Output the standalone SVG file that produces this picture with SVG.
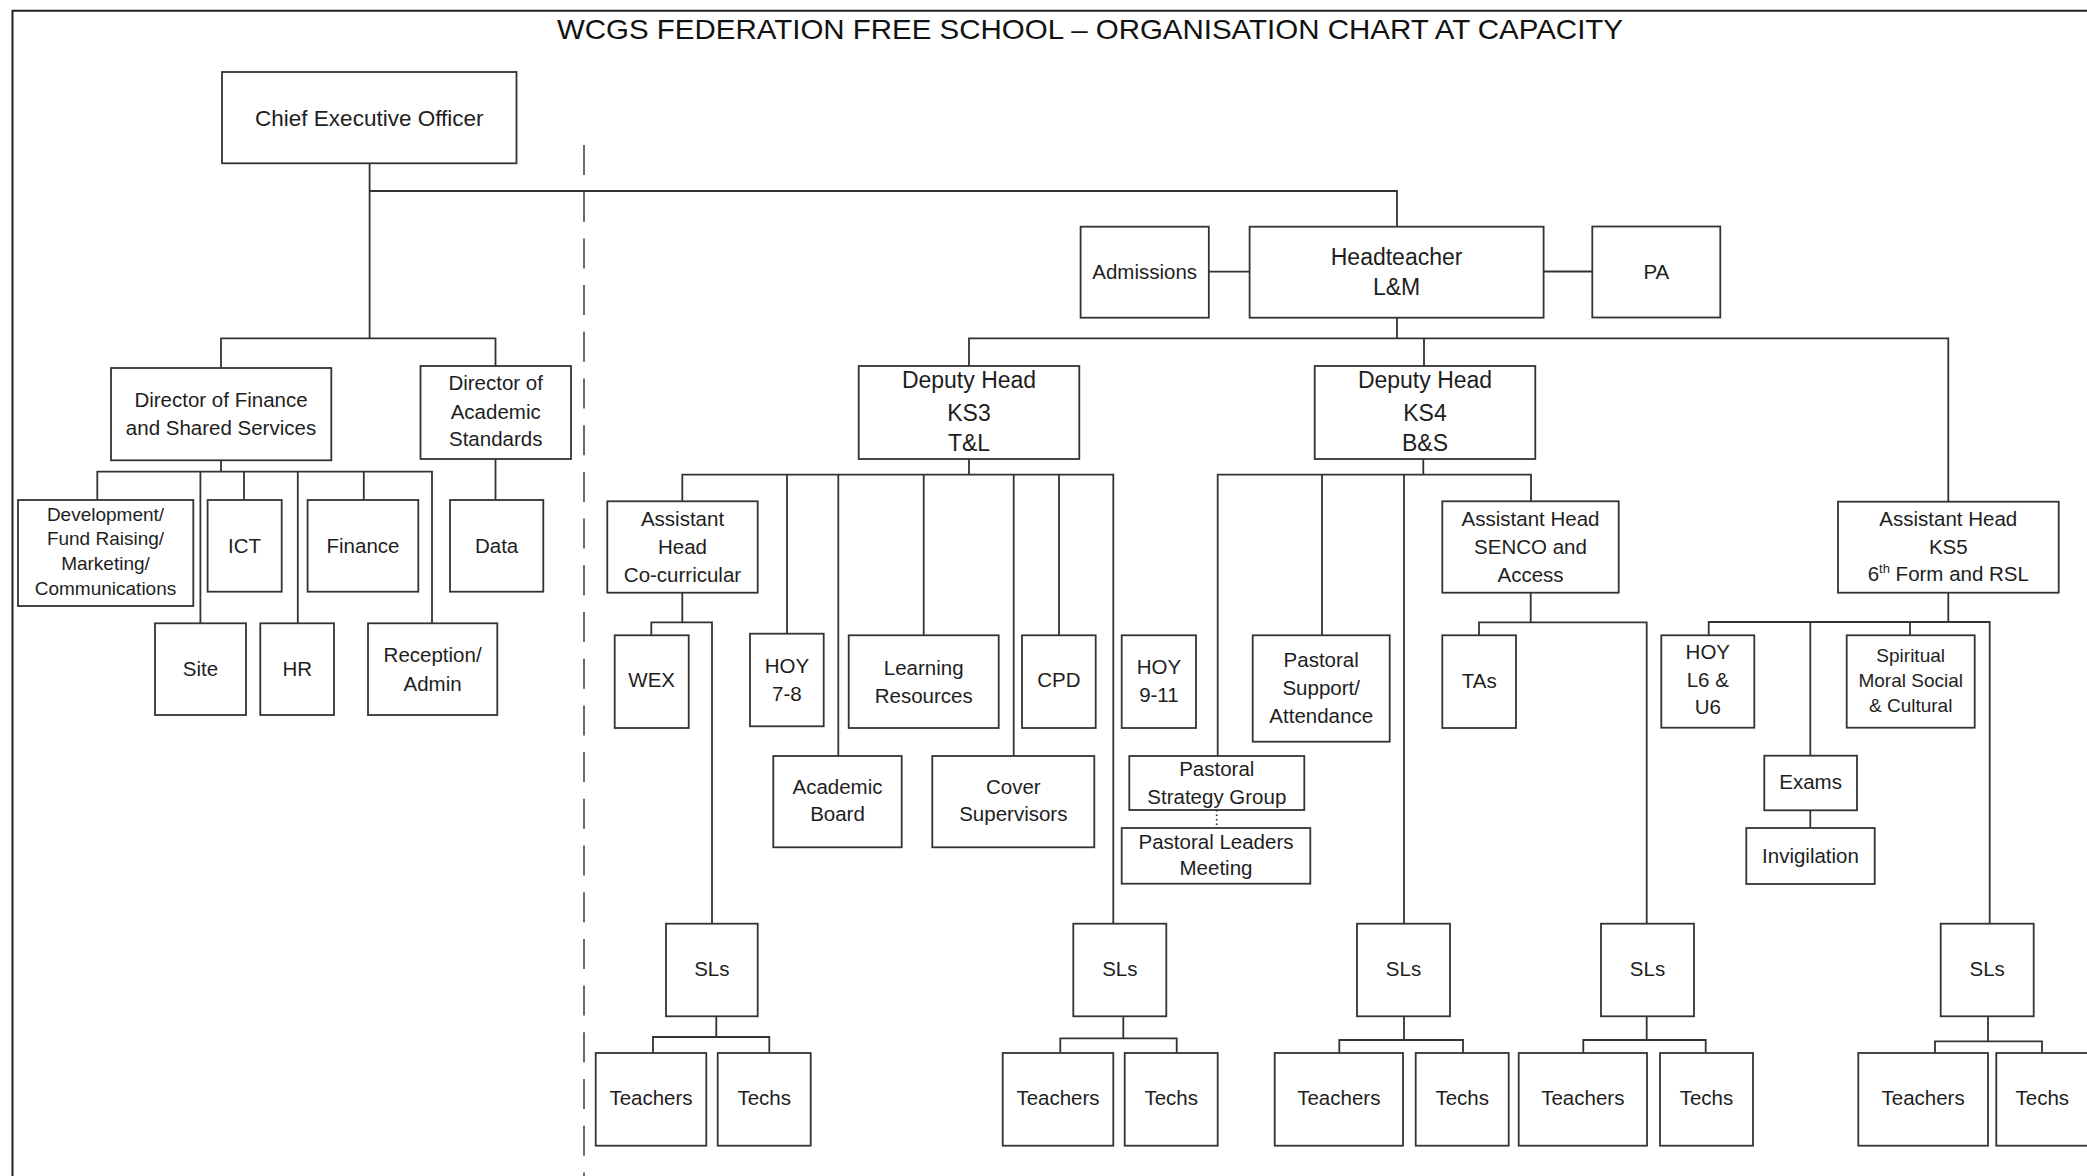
<svg xmlns="http://www.w3.org/2000/svg" width="2087" height="1176" viewBox="0 0 2087 1176">
<style>
.box{fill:#fff;stroke:#333;stroke-width:1.8}
.ln{fill:none;stroke:#333;stroke-width:1.8}
.t{font-family:"Liberation Sans",Arial,sans-serif;font-size:20.5px;fill:#1e1e1e;text-anchor:middle}
.big{font-size:23px}
.sm{font-size:19px}
.title{font-family:"Liberation Sans",Arial,sans-serif;font-size:28px;fill:#111}
</style>
<rect width="2087" height="1176" fill="#fff"/>
<path d="M12.5 1176 V10.7 H2087" fill="none" stroke="#222" stroke-width="2"/>
<text class="title" x="557" y="39" textLength="1066" lengthAdjust="spacingAndGlyphs">WCGS FEDERATION FREE SCHOOL – ORGANISATION CHART AT CAPACITY</text>
<line x1="584" y1="145" x2="584" y2="1176" stroke="#444" stroke-width="1.6" stroke-dasharray="30 16.7"/>

<g id="connectors" class="ln">
<path d="M369.6 163.3 V338.3 M369.6 191 H1397 V226.7"/>
<path d="M221 367.7 V338.3 H495.5 V366"/>
<path d="M221 460.3 V471.7 M97.3 499.7 V471.7 H432 V623.3 M200.4 471.7 V623.3 M244 471.7 V499.7 M297.8 471.7 V623.3 M363.8 471.7 V499.7"/>
<path d="M495.5 459 V499.7"/>
<path d="M1208.8 271.7 H1249.6 M1543.6 271.5 H1592.3"/>
<path d="M1397 317.7 V338.3 M969 366 V338.3 H1948.3 V501.7 M1424 338.3 V366"/>
<path d="M969 459 V474.7 M682.3 501.3 V474.7 H1113.3 V923.7 M787 474.7 V633.7 M838.3 474.7 V756 M923.7 474.7 V635.3 M1013.7 474.7 V756 M1059 474.7 V635.3"/>
<path d="M682.3 592.7 V622.3 M651.3 635.3 V622.3 H712 V923.7"/>
<path d="M1423.3 459 V474.7 M1217.7 756 V474.7 H1531 V501.3 M1322 474.7 V635.3 M1404 474.7 V923.7"/>
<path d="M1216.7 810 V828" stroke-dasharray="1.5 3"/>
<path d="M1530.7 592.7 V622.3 M1479 635.3 V622.3 H1646.7 V923.7"/>
<path d="M1948.3 592.7 V622 M1708.7 635.3 V622 H1989.7 V923.7 M1810.3 622 V755.7 M1910 622 V635.3"/>
<path d="M1810.3 810.3 V828"/>
<path d="M716.3 1016.3 V1037 M653 1053 V1037 H769.3 V1053"/>
<path d="M1123.3 1016.3 V1038.3 M1060.3 1053 V1038.3 H1176.7 V1053"/>
<path d="M1404 1016.3 V1040 M1339.3 1053 V1040 H1463 V1053"/>
<path d="M1646.7 1016.3 V1040 M1583.3 1053 V1040 H1705.7 V1053"/>
<path d="M1988 1016.3 V1041.3 M1935 1053 V1041.3 H2042 V1053"/>
</g>

<g id="ceo"><rect class="box" x="222" y="72" width="294.5" height="91.3"/><text class="t" style="font-size:22.5px" x="369.3" y="126">Chief Executive Officer</text></g>
<g id="dir-finance"><rect class="box" x="111" y="368" width="220.3" height="92.3"/><text class="t" x="221" y="406.5">Director of Finance</text><text class="t" x="221" y="434.5">and Shared Services</text></g>
<g id="dir-academic"><rect class="box" x="420.5" y="366" width="150.5" height="93"/><text class="t" x="495.7" y="390">Director of</text><text class="t" x="495.7" y="418.5">Academic</text><text class="t" x="495.7" y="446">Standards</text></g>
<g id="development"><rect class="box" x="18" y="500" width="175.3" height="106"/><text class="t sm" x="105.5" y="520.5">Development/</text><text class="t sm" x="105.5" y="545">Fund Raising/</text><text class="t sm" x="105.5" y="570">Marketing/</text><text class="t sm" x="105.5" y="595">Communications</text></g>
<g id="ict"><rect class="box" x="207.6" y="500" width="74.1" height="91.7"/><text class="t" x="244.6" y="552.7">ICT</text></g>
<g id="finance"><rect class="box" x="307.6" y="500" width="110.7" height="91.7"/><text class="t" x="363" y="552.7">Finance</text></g>
<g id="data"><rect class="box" x="450" y="500" width="93.3" height="91.7"/><text class="t" x="496.6" y="552.7">Data</text></g>
<g id="site"><rect class="box" x="155" y="623.3" width="91" height="91.7"/><text class="t" x="200.5" y="676">Site</text></g>
<g id="hr"><rect class="box" x="260.3" y="623.3" width="73.7" height="91.7"/><text class="t" x="297.2" y="676">HR</text></g>
<g id="reception"><rect class="box" x="368" y="623.3" width="129.3" height="91.7"/><text class="t" x="432.6" y="662">Reception/</text><text class="t" x="432.6" y="691">Admin</text></g>

<g id="admissions"><rect class="box" x="1080.6" y="226.7" width="128.2" height="91"/><text class="t" x="1144.7" y="278.7">Admissions</text></g>
<g id="headteacher"><rect class="box" x="1249.6" y="226.7" width="294" height="91"/><text class="t big" x="1396.6" y="264.7">Headteacher</text><text class="t big" x="1396.6" y="294.7">L&amp;M</text></g>
<g id="pa"><rect class="box" x="1592.3" y="226.5" width="128" height="91"/><text class="t" x="1656.3" y="278.5">PA</text></g>

<g id="deputy-ks3"><rect class="box" x="858.7" y="366" width="220.6" height="93"/><text class="t big" x="969" y="388">Deputy Head</text><text class="t big" x="969" y="420.7">KS3</text><text class="t big" x="969" y="451.3">T&amp;L</text></g>
<g id="deputy-ks4"><rect class="box" x="1314.7" y="366" width="220.6" height="93"/><text class="t big" x="1425" y="388">Deputy Head</text><text class="t big" x="1425" y="420.7">KS4</text><text class="t big" x="1425" y="451.3">B&amp;S</text></g>

<g id="ah-cocurricular"><rect class="box" x="607.3" y="501.3" width="150.4" height="91.4"/><text class="t" x="682.5" y="526">Assistant</text><text class="t" x="682.5" y="553.7">Head</text><text class="t" x="682.5" y="582">Co-curricular</text></g>
<g id="wex"><rect class="box" x="614.7" y="635.3" width="74" height="92.7"/><text class="t" x="651.7" y="687">WEX</text></g>
<g id="hoy-7-8"><rect class="box" x="750" y="633.7" width="73.7" height="92.6"/><text class="t" x="786.9" y="672.7">HOY</text><text class="t" x="786.9" y="701">7-8</text></g>
<g id="learning-resources"><rect class="box" x="848.7" y="635.3" width="150" height="92.7"/><text class="t" x="923.7" y="675.3">Learning</text><text class="t" x="923.7" y="702.7">Resources</text></g>
<g id="cpd"><rect class="box" x="1022" y="635.3" width="73.7" height="92.7"/><text class="t" x="1058.9" y="687">CPD</text></g>
<g id="academic-board"><rect class="box" x="773.3" y="756" width="128.4" height="91.3"/><text class="t" x="837.5" y="793.7">Academic</text><text class="t" x="837.5" y="821">Board</text></g>
<g id="cover-supervisors"><rect class="box" x="932.3" y="756" width="162" height="91.3"/><text class="t" x="1013.3" y="793.7">Cover</text><text class="t" x="1013.3" y="821">Supervisors</text></g>

<g id="hoy-9-11"><rect class="box" x="1121.7" y="635.3" width="74.3" height="92.7"/><text class="t" x="1158.9" y="674.3">HOY</text><text class="t" x="1158.9" y="702">9-11</text></g>
<g id="pastoral-strategy"><rect class="box" x="1129.3" y="756" width="175" height="54"/><text class="t" x="1216.8" y="776">Pastoral</text><text class="t" x="1216.8" y="804.3">Strategy Group</text></g>
<g id="pastoral-leaders"><rect class="box" x="1121.7" y="828" width="188.6" height="55.7"/><text class="t" x="1216" y="848.7">Pastoral Leaders</text><text class="t" x="1216" y="875.3">Meeting</text></g>
<g id="pastoral-support"><rect class="box" x="1252.7" y="635.3" width="137" height="106.4"/><text class="t" x="1321.2" y="667">Pastoral</text><text class="t" x="1321.2" y="695.3">Support/</text><text class="t" x="1321.2" y="723">Attendance</text></g>
<g id="ah-senco"><rect class="box" x="1442.3" y="501.3" width="176.4" height="91.4"/><text class="t" x="1530.5" y="526">Assistant Head</text><text class="t" x="1530.5" y="553.7">SENCO and</text><text class="t" x="1530.5" y="582">Access</text></g>
<g id="tas"><rect class="box" x="1442.3" y="635.3" width="73.7" height="92.7"/><text class="t" x="1479.2" y="687.7">TAs</text></g>

<g id="ah-ks5"><rect class="box" x="1838" y="501.7" width="220.7" height="91"/><text class="t" x="1948.3" y="526">Assistant Head</text><text class="t" x="1948.3" y="553.7">KS5</text><text class="t" x="1948.3" y="581.3">6<tspan dy="-8" style="font-size:13px">th</tspan><tspan dy="8"> Form and RSL</tspan></text></g>
<g id="hoy-l6-u6"><rect class="box" x="1661.3" y="635.3" width="93" height="92.4"/><text class="t" x="1707.8" y="659.3">HOY</text><text class="t" x="1707.8" y="687">L6 &amp;</text><text class="t" x="1707.8" y="714.3">U6</text></g>
<g id="smsc"><rect class="box" x="1846.7" y="635.3" width="128" height="92.4"/><text class="t sm" x="1910.7" y="662.2">Spiritual</text><text class="t sm" x="1910.7" y="687.2">Moral Social</text><text class="t sm" x="1910.7" y="712.2">&amp; Cultural</text></g>
<g id="exams"><rect class="box" x="1764.3" y="755.7" width="92.7" height="54.6"/><text class="t" x="1810.6" y="789.3">Exams</text></g>
<g id="invigilation"><rect class="box" x="1746.3" y="828" width="128.4" height="56"/><text class="t" x="1810.5" y="862.7">Invigilation</text></g>

<g id="sls-1"><rect class="box" x="666" y="923.7" width="91.7" height="92.6"/><text class="t" x="711.8" y="976.3">SLs</text></g>
<g id="teachers-1"><rect class="box" x="595.7" y="1053" width="110.6" height="92.7"/><text class="t" x="651" y="1105.3">Teachers</text></g>
<g id="techs-1"><rect class="box" x="717.7" y="1053" width="93" height="92.7"/><text class="t" x="764.2" y="1105.3">Techs</text></g>
<g id="sls-2"><rect class="box" x="1073.3" y="923.7" width="93" height="92.6"/><text class="t" x="1119.8" y="976.3">SLs</text></g>
<g id="teachers-2"><rect class="box" x="1002.7" y="1053" width="110.6" height="92.7"/><text class="t" x="1058" y="1105.3">Teachers</text></g>
<g id="techs-2"><rect class="box" x="1124.7" y="1053" width="93" height="92.7"/><text class="t" x="1171.2" y="1105.3">Techs</text></g>
<g id="sls-3"><rect class="box" x="1357" y="923.7" width="93" height="92.6"/><text class="t" x="1403.5" y="976.3">SLs</text></g>
<g id="teachers-3"><rect class="box" x="1274.7" y="1053" width="128.3" height="92.7"/><text class="t" x="1338.8" y="1105.3">Teachers</text></g>
<g id="techs-3"><rect class="box" x="1415.7" y="1053" width="93" height="92.7"/><text class="t" x="1462.2" y="1105.3">Techs</text></g>
<g id="sls-4"><rect class="box" x="1601" y="923.7" width="93" height="92.6"/><text class="t" x="1647.5" y="976.3">SLs</text></g>
<g id="teachers-4"><rect class="box" x="1518.7" y="1053" width="128.3" height="92.7"/><text class="t" x="1582.8" y="1105.3">Teachers</text></g>
<g id="techs-4"><rect class="box" x="1660" y="1053" width="93" height="92.7"/><text class="t" x="1706.5" y="1105.3">Techs</text></g>
<g id="sls-5"><rect class="box" x="1940.7" y="923.7" width="93" height="92.6"/><text class="t" x="1987.2" y="976.3">SLs</text></g>
<g id="teachers-5"><rect class="box" x="1858.3" y="1053" width="129.7" height="92.7"/><text class="t" x="1923.1" y="1105.3">Teachers</text></g>
<g id="techs-5"><rect class="box" x="1996.3" y="1053" width="92" height="92.7"/><text class="t" x="2042.3" y="1105.3">Techs</text></g>
</svg>
